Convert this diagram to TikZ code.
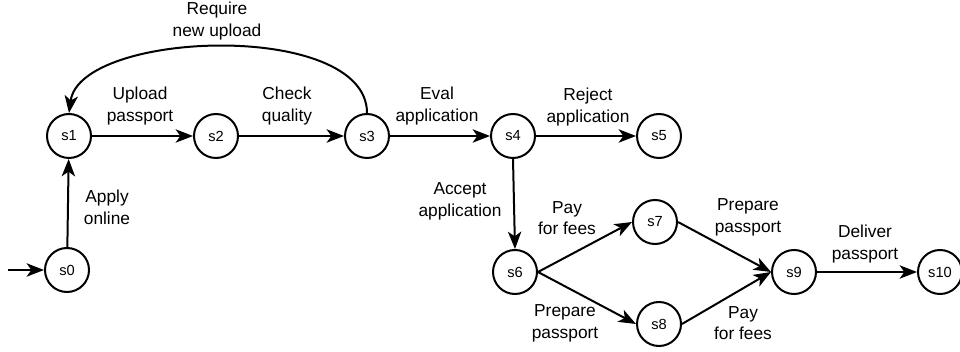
\documentclass[tikz,border=0pt]{standalone}
\usepackage{fontspec}
\setmainfont{Liberation Sans}
\usetikzlibrary{arrows.meta}
\tikzset{
  state/.style={circle, draw, line width=1.5pt, minimum size=33pt, inner sep=0pt,
    font=\fontsize{11}{13}\selectfont},
  lbl/.style={align=center, font=\fontsize{13}{16.3}\selectfont, inner sep=0pt},
  edge/.style={line width=1.5pt, -{Stealth[length=13pt,width=10pt,inset=3.5pt]}}
}
\begin{document}
\begin{tikzpicture}[x=0.75pt,y=-0.75pt]
\useasboundingbox (0,0) rectangle (960,352);
% states
\node[state] (s0) at (67,270) {s0};
\node[state] (s1) at (69,136) {s1};
\node[state] (s2) at (216,136) {s2};
\node[state] (s3) at (367,136) {s3};
\node[state] (s4) at (513,136) {s4};
\node[state] (s5) at (659,136) {s5};
\node[state] (s6) at (515,272) {s6};
\node[state] (s7) at (655,222) {s7};
\node[state] (s8) at (659,324) {s8};
\node[state] (s9) at (794,272) {s9};
\node[state] (s10) at (940,272) {s10};
\coordinate (init) at (8,270);
% edges
\draw[edge] (init) -- (s0);
\draw[edge] (s0) -- (s1);
\draw[edge] (s1) -- (s2);
\draw[edge] (s2) -- (s3);
\draw[edge] (s3) -- (s4);
\draw[edge] (s4) -- (s5);
\draw[edge] (s4.south) -- (s6.north);
\draw[edge] (s6.east) -- (s7.west);
\draw[edge] (s6.east) -- (s8.west);
\draw[edge] (s7.east) -- (s9.west);
\draw[edge] (s8.east) -- (s9.west);
\draw[edge] (s9) -- (s10);
\draw[edge] (s3.north) .. controls (367,20) and (80,30) .. (s1.north);
% labels
\node[lbl] (l31) at (217,21) {Require\\new upload};
\node[lbl] (l12) at (140,106) {Upload\\passport};
\node[lbl] (l23) at (287,106) {Check\\quality};
\node[lbl] (l34) at (437,106) {Eval\\application};
\node[lbl] (l45) at (588,107) {Reject\\application};
\node[lbl] (l01) at (107,207) {Apply\\online};
\node[lbl] (l46) at (460,201) {Accept\\application};
\node[lbl] (l67) at (567,218) {Pay\\for fees};
\node[lbl] (l79) at (748,217) {Prepare\\passport};
\node[lbl] (l910) at (865,244) {Deliver\\passport};
\node[lbl] (l68) at (565,323) {Prepare\\passport};
\node[lbl] (l89) at (743,323) {Pay\\for fees};
\end{tikzpicture}
\end{document}
